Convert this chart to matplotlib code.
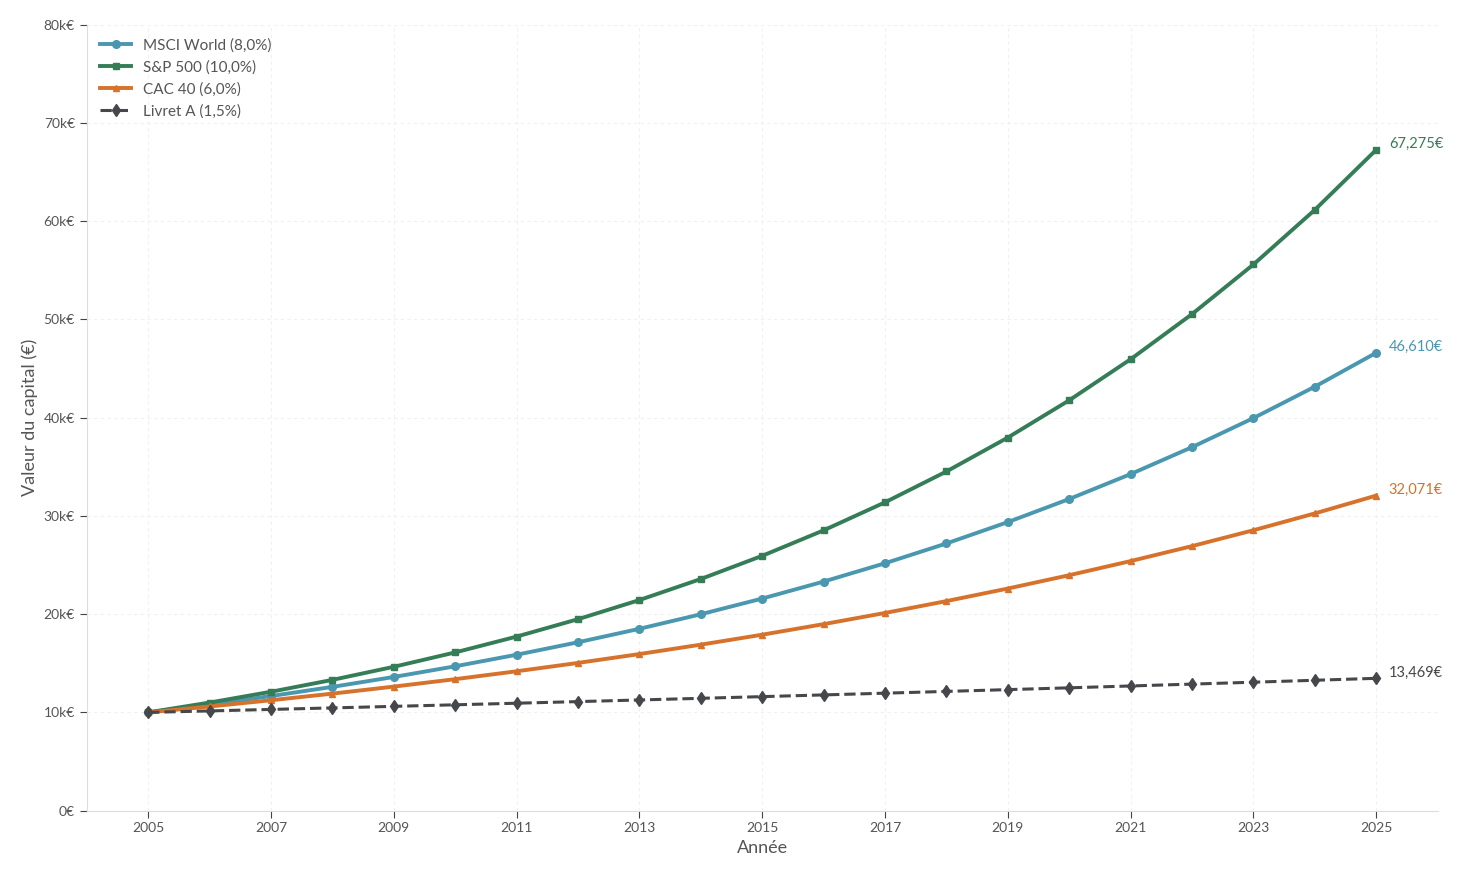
import matplotlib
matplotlib.use("Agg")
import matplotlib.pyplot as plt
from matplotlib.ticker import FuncFormatter

years = list(range(2005, 2026))

msci = [10000, 10800, 11664, 12597, 13605, 14693, 15869, 17138, 18509, 19990, 21589,
        23316, 25182, 27196, 29372, 31722, 34259, 37000, 39960, 43157, 46610]
sp500 = [10000, 11000, 12100, 13310, 14641, 16105, 17716, 19487, 21436, 23579, 25937,
         28531, 31384, 34523, 37975, 41772, 45950, 50545, 55599, 61159, 67275]
cac40 = [10000, 10600, 11236, 11910, 12625, 13382, 14185, 15036, 15938, 16895, 17908,
         18983, 20122, 21329, 22609, 23966, 25404, 26928, 28543, 30256, 32071]
livret = [10000, 10150, 10302, 10457, 10614, 10773, 10934, 11098, 11265, 11434, 11605,
          11779, 11956, 12136, 12318, 12502, 12690, 12880, 13073, 13270, 13469]

labels = ["MSCI World (8,0%)", "S&P 500 (10,0%)", "CAC 40 (6,0%)", "Livret A (1,5%)"]
end_labels = ["46,610€", "67,275€", "32,071€", "13,469€"]

plt.rcParams.update({
    "font.family": ["Lato", "DejaVu Sans"],
    "font.size": 10,
})

styles = [
    {"color": "#4a97b0", "marker": "o", "ls": "-", "lw": 2.8, "ms": 5.5},
    {"color": "#347d57", "marker": "s", "ls": "-", "lw": 2.8, "ms": 5},
    {"color": "#d6722b", "marker": "^", "ls": "-", "lw": 2.8, "ms": 4.5},
    {"color": "#45474b", "marker": "d", "ls": "--", "lw": 2.2, "ms": 6},
]

fig, ax = plt.subplots(figsize=(14.7, 8.84), dpi=100)
fig.subplots_adjust(left=0.059, right=0.978, top=0.972, bottom=0.083)

for vals, lab, end, st in zip([msci, sp500, cac40, livret], labels, end_labels, styles):
    ax.plot(years, vals, label=lab, color=st["color"], marker=st["marker"],
            linestyle=st["ls"], linewidth=st["lw"], markersize=st["ms"])
    ax.annotate(end, (years[-1], vals[-1]), xytext=(9, 4), textcoords="offset points",
                color=st["color"], fontsize=10.5, va="center", ha="left")

ax.set_xlim(2004, 2026)
ax.set_ylim(0, 80000)
ax.set_xticks(range(2005, 2026, 2))
ax.set_yticks(range(0, 80001, 10000))
ax.yaxis.set_major_formatter(FuncFormatter(lambda v, p: f"{int(v/1000)}k€" if v else "0€"))

ax.grid(True, linestyle=(0, (3, 3)), color="#f0f0f0", linewidth=0.8)
ax.set_axisbelow(True)
for s in ["top", "right"]:
    ax.spines[s].set_visible(False)
for s in ["left", "bottom"]:
    ax.spines[s].set_color("#dddddd")
ax.tick_params(colors="#555555", labelsize=10, length=5)
ax.tick_params(axis="both", color="#444444")

ax.set_xlabel("Année", fontsize=13, color="#555555")
ax.set_ylabel("Valeur du capital (€)", fontsize=13, color="#555555")

leg = ax.legend(loc="upper left", frameon=False, fontsize=11, handlelength=2.0,
                labelspacing=0.5, borderaxespad=0.5)
for t in leg.get_texts():
    t.set_color("#555555")

fig.savefig("out.png", dpi=100)
